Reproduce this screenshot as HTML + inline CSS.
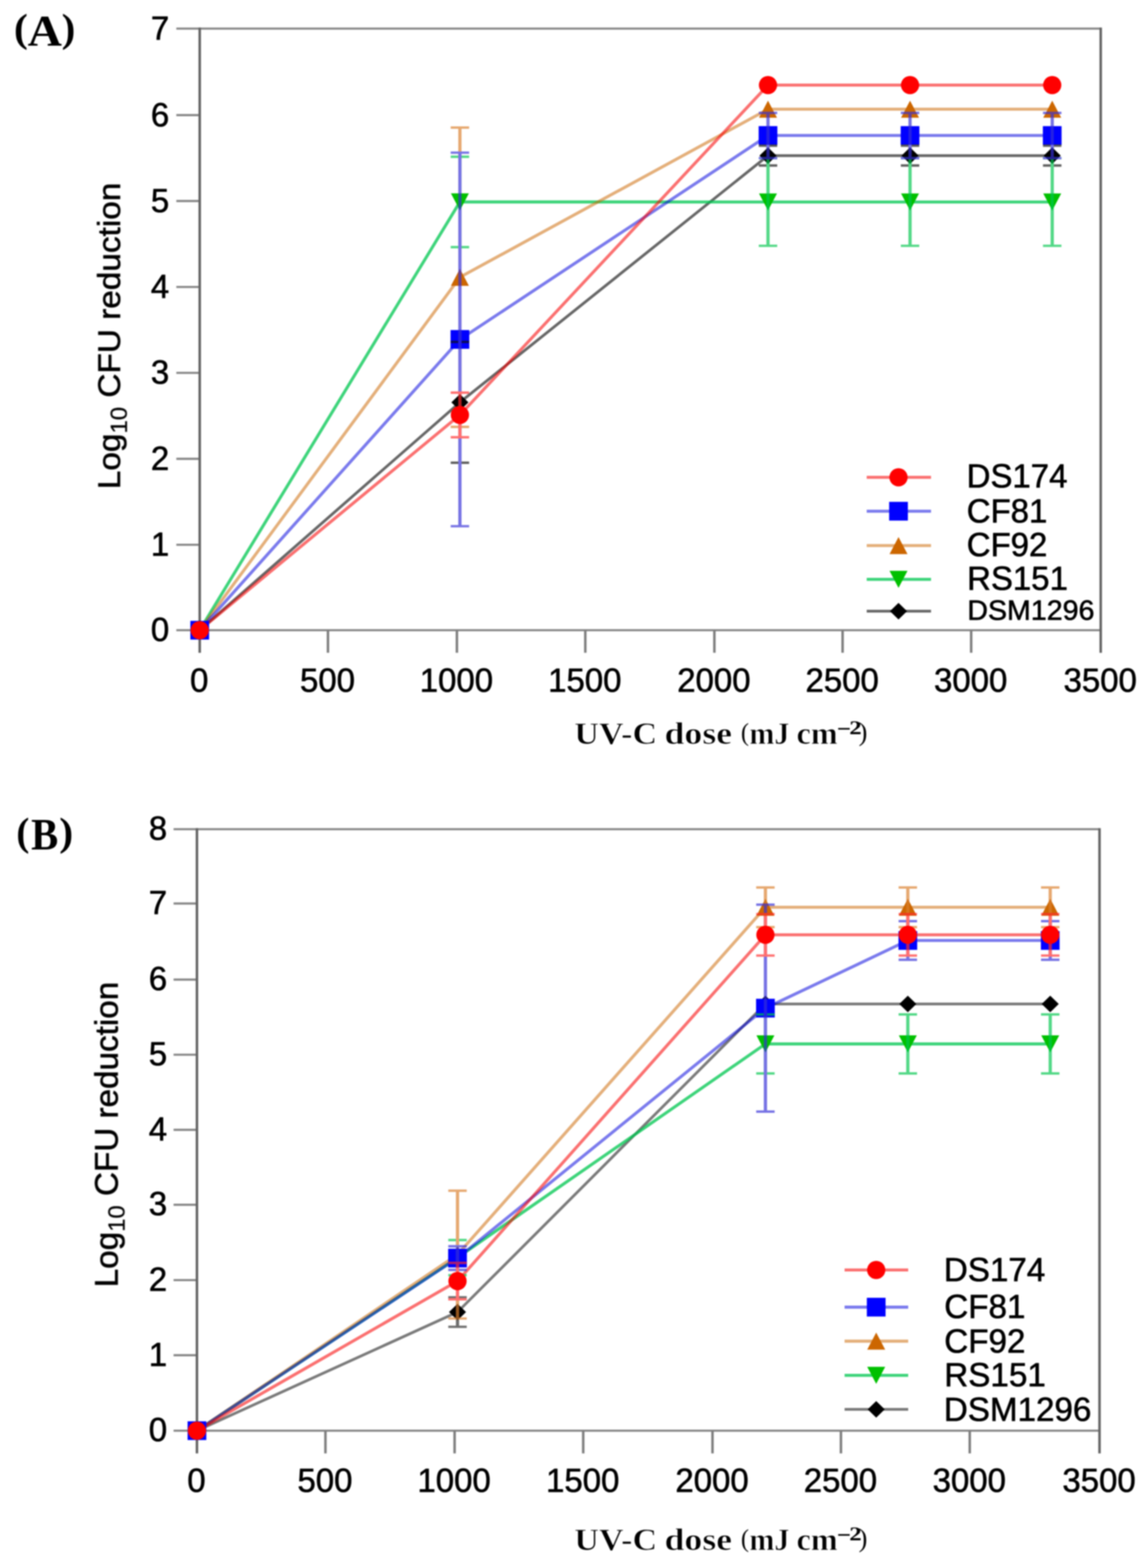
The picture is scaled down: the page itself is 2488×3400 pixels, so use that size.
<!DOCTYPE html>
<html><head><meta charset="utf-8"><title>UV-C dose response</title>
<style>html,body{margin:0;padding:0;background:#fff;}svg{display:block;}</style>
</head><body>
<svg xmlns="http://www.w3.org/2000/svg" width="2488" height="3400" viewBox="0 0 2488 3400">
<defs><filter id="soft" x="0" y="0" width="100%" height="100%" filterUnits="userSpaceOnUse" color-interpolation-filters="sRGB"><feGaussianBlur stdDeviation="1.5"/></filter></defs>
<rect width="2488" height="3400" fill="#fff"/>
<g filter="url(#soft)">
<g stroke-linecap="butt" fill="none">
<path d="M382.5 62H2387.6" stroke-width="4.6" stroke="#868686"/>
<path d="M382.5 1366.5H2387.6" stroke-width="4.6" stroke="#868686"/>
<path d="M382.5 1181.2H433.2" stroke-width="4.6" stroke="#868686"/>
<path d="M382.5 994.9H433.2" stroke-width="4.6" stroke="#868686"/>
<path d="M382.5 808.5H433.2" stroke-width="4.6" stroke="#868686"/>
<path d="M382.5 622.2H433.2" stroke-width="4.6" stroke="#868686"/>
<path d="M382.5 435.9H433.2" stroke-width="4.6" stroke="#868686"/>
<path d="M382.5 249.6H433.2" stroke-width="4.6" stroke="#868686"/>
<path d="M433.2 59.7V1415.4" stroke-width="5.4" stroke="#636363"/>
<path d="M2387.6 59.7V1415.4" stroke-width="5.4" stroke="#636363"/>
<path d="M711.4 1366.5V1415.4" stroke-width="5.4" stroke="#7e7e7e"/>
<path d="M991.1 1366.5V1415.4" stroke-width="5.4" stroke="#7e7e7e"/>
<path d="M1269.6 1366.5V1415.4" stroke-width="5.4" stroke="#7e7e7e"/>
<path d="M1549.6 1366.5V1415.4" stroke-width="5.4" stroke="#7e7e7e"/>
<path d="M1827.7 1366.5V1415.4" stroke-width="5.4" stroke="#7e7e7e"/>
<path d="M2106.6 1366.5V1415.4" stroke-width="5.4" stroke="#7e7e7e"/>
</g>
<g fill="#000" font-family="'Liberation Sans', Arial, Helvetica, sans-serif" font-size="71.5" stroke="#000" stroke-width="1.2" stroke-linejoin="round">
<text x="367" y="1390.4" text-anchor="end">0</text>
<text x="367" y="1205.1" text-anchor="end">1</text>
<text x="367" y="1018.8" text-anchor="end">2</text>
<text x="367" y="832.4" text-anchor="end">3</text>
<text x="367" y="646.1" text-anchor="end">4</text>
<text x="367" y="459.8" text-anchor="end">5</text>
<text x="367" y="273.5" text-anchor="end">6</text>
<text x="367" y="85.9" text-anchor="end">7</text>
<text x="432.2" y="1500.2" text-anchor="middle">0</text>
<text x="710.4" y="1500.2" text-anchor="middle">500</text>
<text x="990.1" y="1500.2" text-anchor="middle">1000</text>
<text x="1268.6" y="1500.2" text-anchor="middle">1500</text>
<text x="1548.6" y="1500.2" text-anchor="middle">2000</text>
<text x="1826.7" y="1500.2" text-anchor="middle">2500</text>
<text x="2105.6" y="1500.2" text-anchor="middle">3000</text>
<text x="2386.6" y="1500.2" text-anchor="middle">3500</text>
</g>
<text transform="translate(260.65 1060.74) scale(0.9600 1.0043) rotate(-90)" font-family="'Liberation Sans', Arial, Helvetica, sans-serif" font-weight="normal" font-size="72" stroke="#000" stroke-width="1.2" stroke-linejoin="round">Log<tspan font-size="51.8" dy="15.5" stroke-width="0.5">10</tspan><tspan dy="-15.5"> CFU reduction</tspan></text>
<text transform="matrix(1.1222 0 0 1.0331 1245.85 1612.72)" font-family="'Liberation Serif', 'Times New Roman', serif" font-weight="bold" font-size="66" stroke="#fff" stroke-width="1.2" stroke-linejoin="round">UV-C</text>
<text transform="matrix(1.1748 0 0 1.0331 1441.50 1612.72)" font-family="'Liberation Serif', 'Times New Roman', serif" font-weight="bold" font-size="66" stroke="#fff" stroke-width="1.2" stroke-linejoin="round">dose</text>
<text transform="matrix(0.9860 0 0 1.0331 1625.47 1612.72)" font-family="'Liberation Serif', 'Times New Roman', serif" font-weight="bold" font-size="66" stroke="#fff" stroke-width="1.2" stroke-linejoin="round">mJ</text>
<text transform="matrix(1.0588 0 0 1.0331 1727.65 1612.72)" font-family="'Liberation Serif', 'Times New Roman', serif" font-weight="bold" font-size="66" stroke="#fff" stroke-width="1.2" stroke-linejoin="round">cm</text>
<text transform="matrix(1.2503 0 0 1.1628 1815.34 1596.55)" font-family="'Liberation Serif', 'Times New Roman', serif" font-weight="bold" font-size="43">−</text>
<text transform="matrix(1.2440 0 0 0.9866 1842.16 1592.00)" font-family="'Liberation Serif', 'Times New Roman', serif" font-weight="bold" font-size="43">2</text>
<text transform="matrix(0.7903 0 0 0.8199 1607.15 1606.14)" font-family="'Liberation Serif', 'Times New Roman', serif" font-weight="normal" font-size="66">(</text>
<text transform="matrix(0.8625 0 0 0.8653 1862.59 1606.01)" font-family="'Liberation Serif', 'Times New Roman', serif" font-weight="normal" font-size="66">)</text>
<text transform="matrix(0.9436 0 0 0.8947 30.32 90.26)" font-family="'Liberation Serif', 'Times New Roman', serif" font-weight="bold" font-size="96">(</text>
<text transform="matrix(1.0712 0 0 0.9987 59.97 98.58)" font-family="'Liberation Serif', 'Times New Roman', serif" font-weight="bold" font-size="96">A</text>
<text transform="matrix(0.9255 0 0 0.8947 133.83 90.26)" font-family="'Liberation Serif', 'Times New Roman', serif" font-weight="bold" font-size="96">)</text>
<polyline points="433.2,1366.5 997.6,872.4 1665.9,337.4 1974,337.4 2282.4,337.4" fill="none" stroke="#000000" stroke-opacity="0.6" stroke-width="6.0" stroke-linejoin="round"/>
<polyline points="433.2,1366.5 997.6,437.8 1665.9,438 1974,438 2282.4,438" fill="none" stroke="#00c650" stroke-opacity="0.76" stroke-width="6.6" stroke-linejoin="round"/>
<polyline points="433.2,1366.5 997.6,601.2 1665.9,236.8 1974,236.8 2282.4,236.8" fill="none" stroke="#cc6600" stroke-opacity="0.52" stroke-width="6.6" stroke-linejoin="round"/>
<polyline points="433.2,1366.5 997.6,736 1665.9,293.8 1974,293.8 2282.4,293.8" fill="none" stroke="#0000dc" stroke-opacity="0.52" stroke-width="6.6" stroke-linejoin="round"/>
<polyline points="433.2,1366.5 997.6,899.7 1665.9,184.5 1974,184.5 2282.4,184.5" fill="none" stroke="#f80000" stroke-opacity="0.56" stroke-width="6.6" stroke-linejoin="round"/>
<path d="M433.2 1348.5L451.7 1366.5L433.2 1384.5L414.7 1366.5Z" fill="#000000"/>
<path d="M997.6 854.4L1016.1 872.4L997.6 890.4L979.1 872.4Z" fill="#000000"/>
<path d="M1665.9 319.4L1684.4 337.4L1665.9 355.4L1647.4 337.4Z" fill="#000000"/>
<path d="M1974 319.4L1992.5 337.4L1974 355.4L1955.5 337.4Z" fill="#000000"/>
<path d="M2282.4 319.4L2300.9 337.4L2282.4 355.4L2263.9 337.4Z" fill="#000000"/>
<path d="M413.7 1348L452.7 1348L433.2 1385Z" fill="#00c000"/>
<path d="M978.1 419.3L1017.1 419.3L997.6 456.3Z" fill="#00c000"/>
<path d="M1646.4 419.5L1685.4 419.5L1665.9 456.5Z" fill="#00c000"/>
<path d="M1954.5 419.5L1993.5 419.5L1974 456.5Z" fill="#00c000"/>
<path d="M2262.9 419.5L2301.9 419.5L2282.4 456.5Z" fill="#00c000"/>
<path d="M433.2 1348L452.7 1385L413.7 1385Z" fill="#cc6600"/>
<path d="M997.6 582.7L1017.1 619.7L978.1 619.7Z" fill="#cc6600"/>
<path d="M1665.9 218.3L1685.4 255.3L1646.4 255.3Z" fill="#cc6600"/>
<path d="M1974 218.3L1993.5 255.3L1954.5 255.3Z" fill="#cc6600"/>
<path d="M2282.4 218.3L2301.9 255.3L2262.9 255.3Z" fill="#cc6600"/>
<rect x="412.9" y="1346.2" width="40.6" height="40.6" fill="#0000ff"/>
<rect x="977.3" y="715.7" width="40.6" height="40.6" fill="#0000ff"/>
<rect x="1645.6" y="273.5" width="40.6" height="40.6" fill="#0000ff"/>
<rect x="1953.7" y="273.5" width="40.6" height="40.6" fill="#0000ff"/>
<rect x="2262.1" y="273.5" width="40.6" height="40.6" fill="#0000ff"/>
<g opacity="0.68" fill="none">
<path d="M997.6 741.4V1003.4M1665.9 315.9V358.9M1974 315.9V358.9M2282.4 315.9V358.9" stroke="#121212" stroke-width="7.0"/>
<path d="M977.6 741.4H1017.6M977.6 1003.4H1017.6M1645.9 315.9H1685.9M1645.9 358.9H1685.9M1954 315.9H1994M1954 358.9H1994M2262.4 315.9H2302.4M2262.4 358.9H2302.4" stroke="#121212" stroke-width="5.2"/>
<path d="M997.6 339.8V535.8M1665.9 343V533M1974 343V533M2282.4 343V533" stroke="#01c64d" stroke-width="7.0"/>
<path d="M977.6 339.8H1017.6M977.6 535.8H1017.6M1645.9 343H1685.9M1645.9 533H1685.9M1954 343H1994M1954 533H1994M2262.4 343H2302.4M2262.4 533H2302.4" stroke="#01c64d" stroke-width="5.2"/>
<path d="M997.6 276.7V925.7" stroke="#da7f2d" stroke-width="7.0"/>
<path d="M977.6 276.7H1017.6M977.6 925.7H1017.6" stroke="#da7f2d" stroke-width="5.2"/>
<path d="M997.6 331V1141M1665.9 244.8V342.8M1974 244.8V342.8M2282.4 244.8V342.8" stroke="#3630d7" stroke-width="7.0"/>
<path d="M977.6 331H1017.6M977.6 1141H1017.6M1645.9 244.8H1685.9M1645.9 342.8H1685.9M1954 244.8H1994M1954 342.8H1994M2262.4 244.8H2302.4M2262.4 342.8H2302.4" stroke="#3630d7" stroke-width="5.2"/>
<path d="M997.6 851.3V948.1" stroke="#ff2b2b" stroke-width="7.0"/>
<path d="M977.6 851.3H1017.6M977.6 948.1H1017.6" stroke="#ff2b2b" stroke-width="5.2"/>
</g>
<circle cx="433.2" cy="1366.5" r="19.8" fill="#ff0000"/>
<circle cx="997.6" cy="899.7" r="19.8" fill="#ff0000"/>
<circle cx="1665.9" cy="184.5" r="19.8" fill="#ff0000"/>
<circle cx="1974" cy="184.5" r="19.8" fill="#ff0000"/>
<circle cx="2282.4" cy="184.5" r="19.8" fill="#ff0000"/>
<path d="M1880 1035H2019.5" stroke="#f80000" stroke-opacity="0.56" stroke-width="6.6"/>
<circle cx="1949" cy="1035" r="19.8" fill="#ff0000"/>
<text transform="matrix(1.0000 0 0 1.0000 2096.78 1056.99)" font-family="'Liberation Sans', Arial, Helvetica, sans-serif" font-weight="normal" font-size="71.5" stroke="#000" stroke-width="1.2" stroke-linejoin="round">DS174</text>
<path d="M1880 1108.5H2019.5" stroke="#0000dc" stroke-opacity="0.52" stroke-width="6.6"/>
<rect x="1928.7" y="1088.2" width="40.6" height="40.6" fill="#0000ff"/>
<text transform="matrix(1.0000 0 0 1.0000 2097.03 1132.59)" font-family="'Liberation Sans', Arial, Helvetica, sans-serif" font-weight="normal" font-size="71.5" stroke="#000" stroke-width="1.2" stroke-linejoin="round">CF81</text>
<path d="M1880 1183H2019.5" stroke="#cc6600" stroke-opacity="0.52" stroke-width="6.6"/>
<path d="M1949 1164.5L1968.5 1201.5L1929.5 1201.5Z" fill="#cc6600"/>
<text transform="matrix(1.0000 0 0 1.0000 2097.03 1205.88)" font-family="'Liberation Sans', Arial, Helvetica, sans-serif" font-weight="normal" font-size="71.5" stroke="#000" stroke-width="1.2" stroke-linejoin="round">CF92</text>
<path d="M1880 1256.3H2019.5" stroke="#00c650" stroke-opacity="0.76" stroke-width="6.6"/>
<path d="M1929.5 1237.8L1968.5 1237.8L1949 1274.8Z" fill="#00c000"/>
<text transform="matrix(1.0000 0 0 1.0000 2097.78 1279.49)" font-family="'Liberation Sans', Arial, Helvetica, sans-serif" font-weight="normal" font-size="71.5" stroke="#000" stroke-width="1.2" stroke-linejoin="round">RS151</text>
<path d="M1880 1325.3H2019.5" stroke="#000000" stroke-opacity="0.6" stroke-width="6.0"/>
<path d="M1949 1307.3L1967.5 1325.3L1949 1343.3L1930.5 1325.3Z" fill="#000000"/>
<text transform="matrix(1.0000 0 0 1.0000 2098.24 1344.08)" font-family="'Liberation Sans', Arial, Helvetica, sans-serif" font-weight="normal" font-size="62.0" stroke="#000" stroke-width="1.2" stroke-linejoin="round">DSM1296</text>
<g stroke-linecap="butt" fill="none">
<path d="M376.5 1798H2385" stroke-width="4.6" stroke="#868686"/>
<path d="M376.5 3102.2H2385" stroke-width="4.6" stroke="#868686"/>
<path d="M376.5 2938.6H427.2" stroke-width="4.6" stroke="#868686"/>
<path d="M376.5 2775.7H427.2" stroke-width="4.6" stroke="#868686"/>
<path d="M376.5 2612.4H427.2" stroke-width="4.6" stroke="#868686"/>
<path d="M376.5 2449.9H427.2" stroke-width="4.6" stroke="#868686"/>
<path d="M376.5 2287H427.2" stroke-width="4.6" stroke="#868686"/>
<path d="M376.5 2124.1H427.2" stroke-width="4.6" stroke="#868686"/>
<path d="M376.5 1959.1H427.2" stroke-width="4.6" stroke="#868686"/>
<path d="M427.2 1795.7V3151.5" stroke-width="5.4" stroke="#636363"/>
<path d="M2385 1795.7V3151.5" stroke-width="5.4" stroke="#636363"/>
<path d="M705.9 3102.2V3151.5" stroke-width="5.4" stroke="#7e7e7e"/>
<path d="M986.1 3102.2V3151.5" stroke-width="5.4" stroke="#7e7e7e"/>
<path d="M1265.1 3102.2V3151.5" stroke-width="5.4" stroke="#7e7e7e"/>
<path d="M1545.5 3102.2V3151.5" stroke-width="5.4" stroke="#7e7e7e"/>
<path d="M1824.1 3102.2V3151.5" stroke-width="5.4" stroke="#7e7e7e"/>
<path d="M2103.5 3102.2V3151.5" stroke-width="5.4" stroke="#7e7e7e"/>
</g>
<g fill="#000" font-family="'Liberation Sans', Arial, Helvetica, sans-serif" font-size="71.5" stroke="#000" stroke-width="1.2" stroke-linejoin="round">
<text x="362.6" y="3125.2" text-anchor="end">0</text>
<text x="362.6" y="2961.6" text-anchor="end">1</text>
<text x="362.6" y="2798.7" text-anchor="end">2</text>
<text x="362.6" y="2635.4" text-anchor="end">3</text>
<text x="362.6" y="2472.9" text-anchor="end">4</text>
<text x="362.6" y="2310" text-anchor="end">5</text>
<text x="362.6" y="2147.1" text-anchor="end">6</text>
<text x="362.6" y="1982.1" text-anchor="end">7</text>
<text x="362.6" y="1821" text-anchor="end">8</text>
<text x="426.2" y="3235.2" text-anchor="middle">0</text>
<text x="704.9" y="3235.2" text-anchor="middle">500</text>
<text x="985.1" y="3235.2" text-anchor="middle">1000</text>
<text x="1264.1" y="3235.2" text-anchor="middle">1500</text>
<text x="1544.5" y="3235.2" text-anchor="middle">2000</text>
<text x="1823.1" y="3235.2" text-anchor="middle">2500</text>
<text x="2102.5" y="3235.2" text-anchor="middle">3000</text>
<text x="2384" y="3235.2" text-anchor="middle">3500</text>
</g>
<text transform="translate(255.03 2791.33) scale(0.9806 1.0010) rotate(-90)" font-family="'Liberation Sans', Arial, Helvetica, sans-serif" font-weight="normal" font-size="72" stroke="#000" stroke-width="1.2" stroke-linejoin="round">Log<tspan font-size="51.8" dy="15.5" stroke-width="0.5">10</tspan><tspan dy="-15.5"> CFU reduction</tspan></text>
<text transform="matrix(1.1222 0 0 1.0331 1245.85 3360.82)" font-family="'Liberation Serif', 'Times New Roman', serif" font-weight="bold" font-size="66" stroke="#fff" stroke-width="1.2" stroke-linejoin="round">UV-C</text>
<text transform="matrix(1.1748 0 0 1.0331 1441.50 3360.82)" font-family="'Liberation Serif', 'Times New Roman', serif" font-weight="bold" font-size="66" stroke="#fff" stroke-width="1.2" stroke-linejoin="round">dose</text>
<text transform="matrix(0.9860 0 0 1.0331 1625.47 3360.82)" font-family="'Liberation Serif', 'Times New Roman', serif" font-weight="bold" font-size="66" stroke="#fff" stroke-width="1.2" stroke-linejoin="round">mJ</text>
<text transform="matrix(1.0588 0 0 1.0331 1727.65 3360.82)" font-family="'Liberation Serif', 'Times New Roman', serif" font-weight="bold" font-size="66" stroke="#fff" stroke-width="1.2" stroke-linejoin="round">cm</text>
<text transform="matrix(1.2503 0 0 1.1628 1815.34 3344.65)" font-family="'Liberation Serif', 'Times New Roman', serif" font-weight="bold" font-size="43">−</text>
<text transform="matrix(1.2440 0 0 0.9866 1842.16 3340.10)" font-family="'Liberation Serif', 'Times New Roman', serif" font-weight="bold" font-size="43">2</text>
<text transform="matrix(0.7903 0 0 0.8199 1607.15 3354.24)" font-family="'Liberation Serif', 'Times New Roman', serif" font-weight="normal" font-size="66">(</text>
<text transform="matrix(0.8625 0 0 0.8653 1862.59 3354.11)" font-family="'Liberation Serif', 'Times New Roman', serif" font-weight="normal" font-size="66">)</text>
<text transform="matrix(0.8824 0 0 0.9062 35.39 1832.93)" font-family="'Liberation Serif', 'Times New Roman', serif" font-weight="bold" font-size="96">(</text>
<text transform="matrix(0.9183 0 0 1.0067 67.38 1841.50)" font-family="'Liberation Serif', 'Times New Roman', serif" font-weight="bold" font-size="96">B</text>
<text transform="matrix(0.9455 0 0 0.9062 128.48 1832.93)" font-family="'Liberation Serif', 'Times New Roman', serif" font-weight="bold" font-size="96">)</text>
<polyline points="427.2,3102.2 992.4,2845 1660.3,2177 1969.2,2177 2278.1,2177" fill="none" stroke="#000000" stroke-opacity="0.52" stroke-width="6.0" stroke-linejoin="round"/>
<polyline points="427.2,3102.2 992.4,2727 1660.3,2263.6 1969.2,2263.6 2278.1,2263.6" fill="none" stroke="#00c650" stroke-opacity="0.76" stroke-width="6.6" stroke-linejoin="round"/>
<polyline points="427.2,3102.2 992.4,2720.4 1660.3,1967.3 1969.2,1967.3 2278.1,1967.3" fill="none" stroke="#cc6600" stroke-opacity="0.52" stroke-width="6.6" stroke-linejoin="round"/>
<polyline points="427.2,3102.2 992.4,2728 1660.3,2186 1969.2,2039.3 2278.1,2039.3" fill="none" stroke="#0000dc" stroke-opacity="0.52" stroke-width="6.6" stroke-linejoin="round"/>
<polyline points="427.2,3102.2 992.4,2777.9 1660.3,2027 1969.2,2027 2278.1,2027" fill="none" stroke="#f80000" stroke-opacity="0.56" stroke-width="6.6" stroke-linejoin="round"/>
<path d="M427.2 3084.2L445.7 3102.2L427.2 3120.2L408.7 3102.2Z" fill="#000000"/>
<path d="M992.4 2827L1010.9 2845L992.4 2863L973.9 2845Z" fill="#000000"/>
<path d="M1660.3 2159L1678.8 2177L1660.3 2195L1641.8 2177Z" fill="#000000"/>
<path d="M1969.2 2159L1987.7 2177L1969.2 2195L1950.7 2177Z" fill="#000000"/>
<path d="M2278.1 2159L2296.6 2177L2278.1 2195L2259.6 2177Z" fill="#000000"/>
<path d="M407.7 3083.7L446.7 3083.7L427.2 3120.7Z" fill="#00c000"/>
<path d="M972.9 2708.5L1011.9 2708.5L992.4 2745.5Z" fill="#00c000"/>
<path d="M1640.8 2245.1L1679.8 2245.1L1660.3 2282.1Z" fill="#00c000"/>
<path d="M1949.7 2245.1L1988.7 2245.1L1969.2 2282.1Z" fill="#00c000"/>
<path d="M2258.6 2245.1L2297.6 2245.1L2278.1 2282.1Z" fill="#00c000"/>
<path d="M427.2 3083.7L446.7 3120.7L407.7 3120.7Z" fill="#cc6600"/>
<path d="M992.4 2701.9L1011.9 2738.9L972.9 2738.9Z" fill="#cc6600"/>
<path d="M1660.3 1948.8L1679.8 1985.8L1640.8 1985.8Z" fill="#cc6600"/>
<path d="M1969.2 1948.8L1988.7 1985.8L1949.7 1985.8Z" fill="#cc6600"/>
<path d="M2278.1 1948.8L2297.6 1985.8L2258.6 1985.8Z" fill="#cc6600"/>
<rect x="406.9" y="3081.9" width="40.6" height="40.6" fill="#0000ff"/>
<rect x="972.1" y="2707.7" width="40.6" height="40.6" fill="#0000ff"/>
<rect x="1640" y="2165.7" width="40.6" height="40.6" fill="#0000ff"/>
<rect x="1948.9" y="2019" width="40.6" height="40.6" fill="#0000ff"/>
<rect x="2257.8" y="2019" width="40.6" height="40.6" fill="#0000ff"/>
<g opacity="0.68" fill="none">
<path d="M992.4 2813V2877" stroke="#2a2a2a" stroke-width="7.0"/>
<path d="M972.4 2813H1012.4M972.4 2877H1012.4" stroke="#2a2a2a" stroke-width="5.2"/>
<path d="M992.4 2688.8V2765.2M1660.3 2199.6V2327.6M1969.2 2199.6V2327.6M2278.1 2199.6V2327.6" stroke="#01c64d" stroke-width="7.0"/>
<path d="M972.4 2688.8H1012.4M972.4 2765.2H1012.4M1640.3 2199.6H1680.3M1640.3 2327.6H1680.3M1949.2 2199.6H1989.2M1949.2 2327.6H1989.2M2258.1 2199.6H2298.1M2258.1 2327.6H2298.1" stroke="#01c64d" stroke-width="5.2"/>
<path d="M992.4 2581.8V2859M1660.3 1924.3V2010.3M1969.2 1924.3V2010.3M2278.1 1924.3V2010.3" stroke="#da7f2d" stroke-width="7.0"/>
<path d="M972.4 2581.8H1012.4M972.4 2859H1012.4M1640.3 1924.3H1680.3M1640.3 2010.3H1680.3M1949.2 1924.3H1989.2M1949.2 2010.3H1989.2M2258.1 1924.3H2298.1M2258.1 2010.3H2298.1" stroke="#da7f2d" stroke-width="5.2"/>
<path d="M992.4 2702.4V2753.6M1660.3 1961.6V2410.4M1969.2 1997.4V2081.2M2278.1 1997.4V2081.2" stroke="#3630d7" stroke-width="7.0"/>
<path d="M972.4 2702.4H1012.4M972.4 2753.6H1012.4M1640.3 1961.6H1680.3M1640.3 2410.4H1680.3M1949.2 1997.4H1989.2M1949.2 2081.2H1989.2M2258.1 1997.4H2298.1M2258.1 2081.2H2298.1" stroke="#3630d7" stroke-width="5.2"/>
<path d="M992.4 2738.4V2817.4M1660.3 1982V2072M1969.2 1982V2072M2278.1 1982V2072" stroke="#ff2b2b" stroke-width="7.0"/>
<path d="M972.4 2738.4H1012.4M972.4 2817.4H1012.4M1640.3 1982H1680.3M1640.3 2072H1680.3M1949.2 1982H1989.2M1949.2 2072H1989.2M2258.1 1982H2298.1M2258.1 2072H2298.1" stroke="#ff2b2b" stroke-width="5.2"/>
</g>
<circle cx="427.2" cy="3102.2" r="19.8" fill="#ff0000"/>
<circle cx="992.4" cy="2777.9" r="19.8" fill="#ff0000"/>
<circle cx="1660.3" cy="2027" r="19.8" fill="#ff0000"/>
<circle cx="1969.2" cy="2027" r="19.8" fill="#ff0000"/>
<circle cx="2278.1" cy="2027" r="19.8" fill="#ff0000"/>
<path d="M1832 2753.8H1970" stroke="#f80000" stroke-opacity="0.56" stroke-width="6.6"/>
<circle cx="1900.6" cy="2753.8" r="19.8" fill="#ff0000"/>
<text transform="matrix(1.0000 0 0 1.0000 2047.24 2778.08)" font-family="'Liberation Sans', Arial, Helvetica, sans-serif" font-weight="normal" font-size="72.0" stroke="#000" stroke-width="1.2" stroke-linejoin="round">DS174</text>
<path d="M1832 2834.4H1970" stroke="#0000dc" stroke-opacity="0.52" stroke-width="6.6"/>
<rect x="1880.3" y="2814.1" width="40.6" height="40.6" fill="#0000ff"/>
<text transform="matrix(1.0000 0 0 1.0000 2048.30 2857.98)" font-family="'Liberation Sans', Arial, Helvetica, sans-serif" font-weight="normal" font-size="72.0" stroke="#000" stroke-width="1.2" stroke-linejoin="round">CF81</text>
<path d="M1832 2908.1H1970" stroke="#cc6600" stroke-opacity="0.52" stroke-width="6.6"/>
<path d="M1900.6 2889.6L1920.1 2926.6L1881.1 2926.6Z" fill="#cc6600"/>
<text transform="matrix(1.0000 0 0 1.0000 2048.30 2933.48)" font-family="'Liberation Sans', Arial, Helvetica, sans-serif" font-weight="normal" font-size="72.0" stroke="#000" stroke-width="1.2" stroke-linejoin="round">CF92</text>
<path d="M1832 2982.2H1970" stroke="#00c650" stroke-opacity="0.76" stroke-width="6.6"/>
<path d="M1881.1 2963.7L1920.1 2963.7L1900.6 3000.7Z" fill="#00c000"/>
<text transform="matrix(1.0000 0 0 1.0000 2048.34 3006.48)" font-family="'Liberation Sans', Arial, Helvetica, sans-serif" font-weight="normal" font-size="72.0" stroke="#000" stroke-width="1.2" stroke-linejoin="round">RS151</text>
<path d="M1832 3056H1970" stroke="#000000" stroke-opacity="0.52" stroke-width="6.0"/>
<path d="M1900.6 3038L1919.1 3056L1900.6 3074L1882.1 3056Z" fill="#000000"/>
<text transform="matrix(1.0000 0 0 1.0000 2047.24 3080.58)" font-family="'Liberation Sans', Arial, Helvetica, sans-serif" font-weight="normal" font-size="72.0" stroke="#000" stroke-width="1.2" stroke-linejoin="round">DSM1296</text>
</g>
</svg>
</body></html>
